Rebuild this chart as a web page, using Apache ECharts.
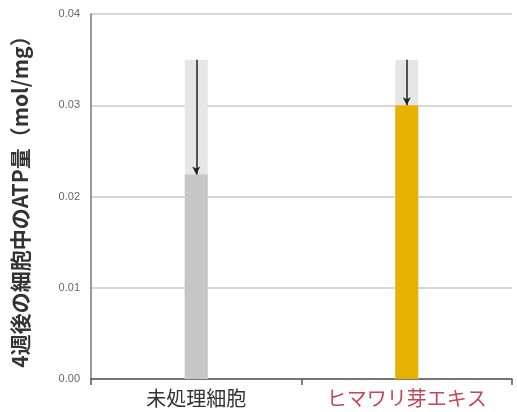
<!DOCTYPE html>
<html><head><meta charset="utf-8">
<script src="https://cdn.jsdelivr.net/npm/echarts@6/dist/echarts.min.js"></script>
<style>html,body{margin:0;padding:0;background:#fff}#c{width:517px;height:412px}</style>
</head><body><div id="c"></div>
<script>
var categories = ['未処理細胞', 'ヒマワリ芽エキス'];
var atpValues = [0.0224, 0.0300];
var startValues = [0.035, 0.035];
var yTicks = [0, 0.01, 0.02, 0.03, 0.04];

var chart = echarts.init(document.getElementById('c'));
var barColors = ['#c6c6c6', '#e8b000'];
var arrows = categories.map(function (c, i) {
  return [{ coord: [c, startValues[i]] }, { coord: [c, atpValues[i]] }];
});
chart.setOption({
  animation: false,
  grid: { left: 91, right: 5, top: 14, bottom: 33 },
  xAxis: {
    type: 'category',
    data: categories,
    axisLine: { lineStyle: { color: '#555', width: 1.5 } },
    axisTick: { show: true, length: 6, lineStyle: { color: '#555', width: 1.5 } },
    axisLabel: {
      fontSize: 20, margin: 9,
      fontFamily: 'Noto Sans CJK JP',
      color: function (v) { return v === categories[1] ? '#c2475a' : '#333'; }
    }
  },
  yAxis: {
    type: 'value', min: yTicks[0], max: yTicks[yTicks.length - 1], interval: 0.01,
    name: '4週後の細胞中のATP量（mol/mg）',
    nameLocation: 'middle', nameGap: 60,
    nameTextStyle: { fontSize: 21, fontWeight: 'bold', color: '#333', fontFamily: 'Noto Sans CJK JP' },
    axisLine: { show: true, lineStyle: { color: '#777', width: 1.5 } },
    axisTick: { show: false },
    axisLabel: { fontSize: 11, color: '#666', margin: 11, formatter: function (v) { return v.toFixed(2); } },
    splitLine: { lineStyle: { color: '#c8c8c8', width: 1.5 } }
  },
  series: [
    {
      type: 'bar', data: startValues, barWidth: 23, silent: true,
      itemStyle: { color: '#e6e6e6' }, z: 1
    },
    {
      type: 'bar', data: atpValues.map(function (v, i) { return { value: v, itemStyle: { color: barColors[i] } }; }),
      barWidth: 23, barGap: '-100%', z: 2,
      markLine: {
        silent: true, symbol: ['none', 'arrow'], symbolSize: [6, 8],
        label: { show: false },
        lineStyle: { color: '#222', width: 1.5, type: 'solid' },
        data: arrows
      }
    }
  ]
});
</script></body></html>
